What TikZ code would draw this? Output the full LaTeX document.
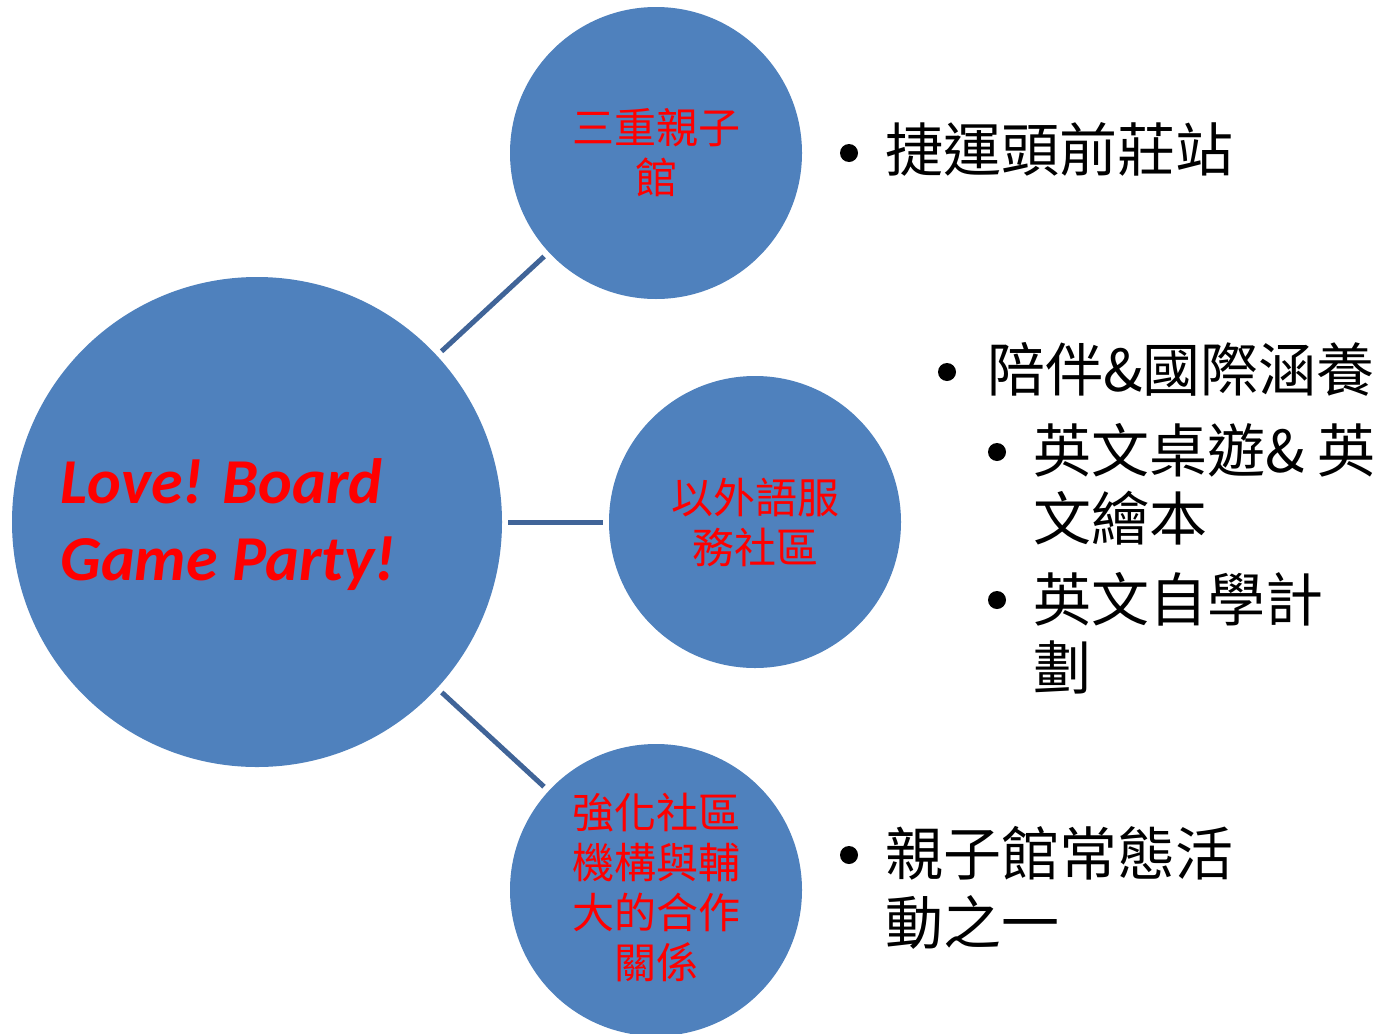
\documentclass[tikz,border=0pt]{standalone}
\usepackage{fontspec}
\setmainfont{Carlito}
\newfontfamily\cjk{Noto Sans CJK TC}
\definecolor{circblue}{HTML}{4F81BD}
\definecolor{linkblue}{RGB}{64,100,152}
\begin{document}
\begin{tikzpicture}[x=0.5pt,y=-0.5pt,
  bubble/.style={circle, fill=circblue, inner sep=0pt, text=red, align=center,
    font=\cjk\fontsize{21pt}{25pt}\selectfont},
  connector/.style={draw=linkblue, line width=2.5pt, shorten <=3pt, shorten >=3pt},
  bulletdot/.style={circle, fill=black, inner sep=0pt, minimum size=9pt},
  itemtext/.style={anchor=west, inner sep=0pt, font=\cjk\fontsize{29pt}{35pt}\selectfont},
  titletext/.style={anchor=base west, inner sep=0pt, text=red,
    font=\bfseries\itshape\fontsize{32pt}{38.5pt}\selectfont}]
\clip (0,0) rectangle (1385,1033);
\fill[white] (0,0) rectangle (1385,1033);
% circles
\node[bubble, minimum size=245pt] (hub) at (257,522) {};
\node[bubble, minimum size=146pt] (c1) at (656,153) {三重親子\\館};
\node[bubble, minimum size=146pt] (c2) at (755,522) {以外語服\\務社區};
\node[bubble, minimum size=146pt] (c3) at (656,890) {};
\node[text=red, align=center, inner sep=0pt, font=\cjk\fontsize{21pt}{25pt}\selectfont] (c3t) at (656,887) {強化社區\\機構與輔\\大的合作\\關係};
% title
\node[titletext] (l1) at (60,503) {Love! Board};
\node[titletext] (l2) at (60,580) {Game Party!};
% connectors
\draw[connector] (hub) -- (c1);
\draw[connector] (hub) -- (c2);
\draw[connector] (hub) -- (c3);
% bullet texts
\node[bulletdot] (b1) at (849,153) {};
\node[itemtext] (t1) at (885,149) {捷運頭前莊站};
\node[bulletdot] (b2) at (947,372) {};
\node[itemtext] (t2) at (987,369) {陪伴\&國際涵養};
\node[bulletdot] (b3) at (997,452) {};
\node[itemtext] (t3a) at (1033,450) {英文桌遊\& 英};
\node[itemtext] (t3b) at (1033,518) {文繪本};
\node[bulletdot] (b4) at (997,600) {};
\node[itemtext] (t4a) at (1033,599) {英文自學計};
\node[itemtext] (t4b) at (1033,667) {劃};
\node[bulletdot] (b5) at (849,855) {};
\node[itemtext] (t5a) at (885,853) {親子館常態活};
\node[itemtext] (t5b) at (885,922) {動之一};
\end{tikzpicture}
\end{document}
